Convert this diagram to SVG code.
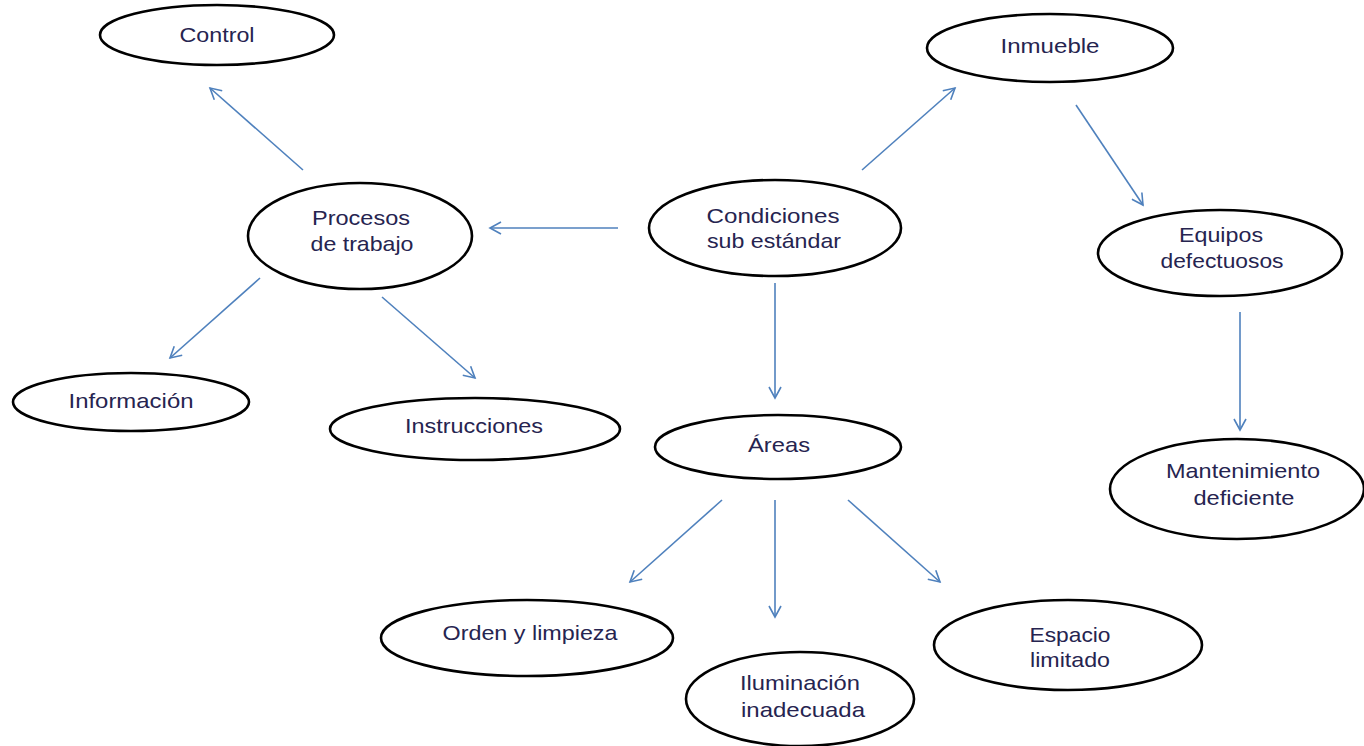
<svg xmlns="http://www.w3.org/2000/svg" width="1364" height="746" viewBox="0 0 1364 746">
  <style>
    .node ellipse { fill: #ffffff; stroke: #000000; stroke-width: 2.6; }
    .node text { font-family: "Liberation Sans", Arial, sans-serif; font-size: 21px; fill: #262450; text-anchor: middle; }
    .edges line { stroke: #4f81bd; stroke-width: 1.6; fill: none; marker-end: url(#arrow); }
  </style>
  <defs>
    <marker id="arrow" viewBox="0 0 14 14" refX="12" refY="7" markerWidth="14" markerHeight="14" markerUnits="userSpaceOnUse" orient="auto">
      <path d="M1,1 L12,7 L1,13" fill="none" stroke="#4f81bd" stroke-width="1.6"/>
    </marker>
  </defs>
  <rect width="1364" height="746" fill="#ffffff"/>

  <g class="edges">
    <line x1="303" y1="170" x2="210" y2="88"/>
    <line x1="618" y1="228" x2="490" y2="228"/>
    <line x1="260" y1="278" x2="170" y2="358"/>
    <line x1="382" y1="297" x2="475" y2="378"/>
    <line x1="862" y1="170" x2="955" y2="88"/>
    <line x1="1076" y1="105" x2="1143" y2="205"/>
    <line x1="1240" y1="312" x2="1240" y2="430"/>
    <line x1="775" y1="283" x2="775" y2="398"/>
    <line x1="722" y1="500" x2="630" y2="582"/>
    <line x1="775" y1="500" x2="775" y2="617"/>
    <line x1="848" y1="500" x2="940" y2="582"/>
  </g>

  <g id="control" class="node">
    <ellipse cx="217" cy="35" rx="117" ry="30"/>
    <text x="217" y="42" textLength="75" lengthAdjust="spacingAndGlyphs">Control</text>
  </g>
  <g id="procesos" class="node">
    <ellipse cx="360" cy="236" rx="112" ry="53"/>
    <text x="361" y="225" textLength="98" lengthAdjust="spacingAndGlyphs">Procesos</text>
    <text x="362" y="251" textLength="103" lengthAdjust="spacingAndGlyphs">de trabajo</text>
  </g>
  <g id="condiciones" class="node">
    <ellipse cx="775" cy="228" rx="126" ry="48"/>
    <text x="773" y="223" textLength="133" lengthAdjust="spacingAndGlyphs">Condiciones</text>
    <text x="774" y="248" textLength="134" lengthAdjust="spacingAndGlyphs">sub estándar</text>
  </g>
  <g id="inmueble" class="node">
    <ellipse cx="1050" cy="48" rx="123" ry="34"/>
    <text x="1050" y="53" textLength="99" lengthAdjust="spacingAndGlyphs">Inmueble</text>
  </g>
  <g id="equipos" class="node">
    <ellipse cx="1220" cy="253" rx="122" ry="43"/>
    <text x="1221" y="242" textLength="84" lengthAdjust="spacingAndGlyphs">Equipos</text>
    <text x="1222" y="268" textLength="123" lengthAdjust="spacingAndGlyphs">defectuosos</text>
  </g>
  <g id="mantenimiento" class="node">
    <ellipse cx="1237" cy="489" rx="127" ry="50"/>
    <text x="1243" y="478" textLength="154" lengthAdjust="spacingAndGlyphs">Mantenimiento</text>
    <text x="1244" y="505" textLength="101" lengthAdjust="spacingAndGlyphs">deficiente</text>
  </g>
  <g id="informacion" class="node">
    <ellipse cx="131" cy="402" rx="118" ry="29"/>
    <text x="131" y="408" textLength="125" lengthAdjust="spacingAndGlyphs">Información</text>
  </g>
  <g id="instrucciones" class="node">
    <ellipse cx="475" cy="429" rx="145" ry="31"/>
    <text x="474" y="433" textLength="138" lengthAdjust="spacingAndGlyphs">Instrucciones</text>
  </g>
  <g id="areas" class="node">
    <ellipse cx="778" cy="447" rx="123" ry="32"/>
    <text x="779" y="452" textLength="62" lengthAdjust="spacingAndGlyphs">Áreas</text>
  </g>
  <g id="orden" class="node">
    <ellipse cx="527" cy="638" rx="146" ry="38"/>
    <text x="530" y="640" textLength="175" lengthAdjust="spacingAndGlyphs">Orden y limpieza</text>
  </g>
  <g id="iluminacion" class="node">
    <ellipse cx="800" cy="699" rx="114" ry="47"/>
    <text x="800" y="690" textLength="120" lengthAdjust="spacingAndGlyphs">Iluminación</text>
    <text x="803" y="717" textLength="124" lengthAdjust="spacingAndGlyphs">inadecuada</text>
  </g>
  <g id="espacio" class="node">
    <ellipse cx="1068" cy="645" rx="134" ry="45"/>
    <text x="1070" y="642" textLength="81" lengthAdjust="spacingAndGlyphs">Espacio</text>
    <text x="1070" y="667" textLength="80" lengthAdjust="spacingAndGlyphs">limitado</text>
  </g>
</svg>
